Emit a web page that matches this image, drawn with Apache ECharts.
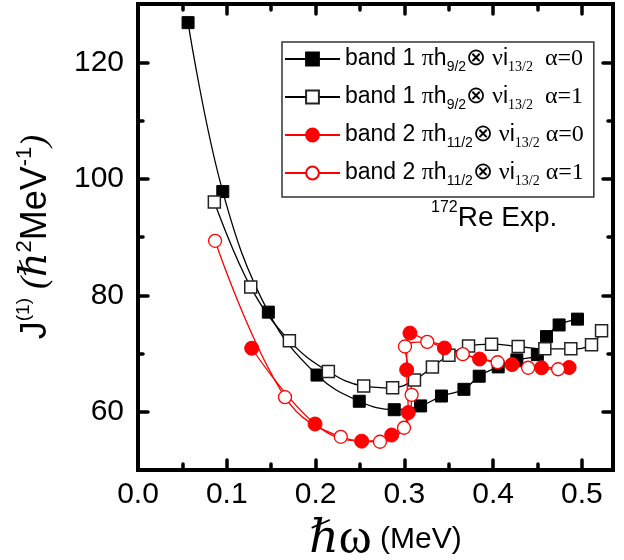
<!DOCTYPE html>
<html>
<head>
<meta charset="utf-8">
<script src="https://cdn.jsdelivr.net/npm/echarts@6/dist/echarts.min.js"></script>
<style>
  html, body { margin: 0; padding: 0; background: #ffffff; }
  #chart { width: 624px; height: 560px; }
</style>
</head>
<body>
<div id="chart"></div>
<script>
// Rotational frequency (MeV) and kinematic moment of inertia J(1) for 172Re.
// Band 1, signature alpha = 0
const band1A0X = [0.0564, 0.0955, 0.1468, 0.2016, 0.2492, 0.2886, 0.3183, 0.3418, 0.3671, 0.3843, 0.4057, 0.4267, 0.4498, 0.4601, 0.4743, 0.4950];
const band1A0Y = [126.8, 97.8, 77.1, 66.3, 61.8, 60.35, 61.0, 62.7, 63.85, 66.1, 67.7, 68.9, 69.8, 72.9, 74.9, 75.9];
// Band 1, signature alpha = 1
const band1A1X = [0.0860, 0.1270, 0.1705, 0.2144, 0.2542, 0.2868, 0.3114, 0.3316, 0.3502, 0.3723, 0.3982, 0.4282, 0.4582, 0.4875, 0.5108, 0.5221];
const band1A1Y = [96.0, 81.4, 72.2, 66.9, 64.4, 64.1, 65.45, 67.7, 69.7, 71.3, 71.6, 71.2, 70.8, 70.8, 71.5, 73.9];
// Band 2, signature alpha = 0
const band2A0X = [0.1281, 0.1994, 0.2519, 0.2857, 0.3044, 0.3026, 0.3063, 0.3451, 0.3847, 0.4214, 0.4545, 0.4856];
const band2A0Y = [70.9, 57.9, 54.95, 56.0, 59.85, 67.2, 73.5, 70.95, 69.05, 68.1, 67.55, 67.6];
// Band 2, signature alpha = 1
const band2A1X = [0.0868, 0.1656, 0.2284, 0.2725, 0.2996, 0.3082, 0.3007, 0.3258, 0.3658, 0.4050, 0.4394, 0.4732];
const band2A1Y = [89.35, 62.5, 55.7, 54.85, 57.25, 62.9, 71.2, 72.0, 69.9, 68.5, 67.55, 67.3];

// Axis ticks
const xMajorTicks = [0.0, 0.1, 0.2, 0.3, 0.4, 0.5];
const xMinorTicks = [0.05, 0.15, 0.25, 0.35, 0.45];
const yMajorTicks = [60, 80, 100, 120];
const yMinorTicks = [70, 90, 110];
const xMin = 0, xMax = 0.535;
const yMin = 50, yMax = 130;

const seriesNames = ['b1a0', 'b1a1', 'b2a0', 'b2a1'];
const legendTexts = {
  b1a0: '{t|band 1 }{g|π}{t|h}{s|9/2}{g|⊗ ν}{t|i}{s2|13/2}{g|  α=0}',
  b1a1: '{t|band 1 }{g|π}{t|h}{s|9/2}{g|⊗ ν}{t|i}{s2|13/2}{g|  α=1}',
  b2a0: '{t|band 2 }{g|π}{t|h}{s|11/2}{g|⊗ ν}{t|i}{s2|13/2}{g| α=0}',
  b2a1: '{t|band 2 }{g|π}{t|h}{s|11/2}{g|⊗ ν}{t|i}{s2|13/2}{g| α=1}'
};

function pairs(xs, ys) { return xs.map((x, i) => [x, ys[i]]); }

const SANS = 'Liberation Sans, Arial, sans-serif';
const SERIF = 'Liberation Serif, Times New Roman, serif';

function xAxisDef(position, ticks, len, main) {
  return {
    type: 'value', position: position, min: xMin, max: xMax,
    axisLine: { show: main, onZero: false, lineStyle: { color: '#000', width: 4, cap: 'square' } },
    axisTick: { show: true, inside: true, length: len, customValues: ticks,
      lineStyle: { color: '#000', width: 3.5, cap: 'round' } },
    axisLabel: { show: false },
    splitLine: { show: false }
  };
}
function yAxisDef(position, ticks, len, main) {
  return {
    type: 'value', position: position, min: yMin, max: yMax,
    axisLine: { show: main, onZero: false, lineStyle: { color: '#000', width: 4, cap: 'square' } },
    axisTick: { show: true, inside: true, length: len, customValues: ticks,
      lineStyle: { color: '#000', width: 3.5, cap: 'round' } },
    axisLabel: { show: false },
    splitLine: { show: false }
  };
}

const xAxes = [
  xAxisDef('bottom', xMajorTicks, 10, true),
  xAxisDef('bottom', xMinorTicks, 6, false),
  xAxisDef('top', xMajorTicks, 10, true),
  xAxisDef('top', xMinorTicks, 6, false)
];
xAxes[0].axisLabel = {
  show: true, customValues: xMajorTicks, margin: 10,
  fontFamily: SANS, fontSize: 30, color: '#000',
  formatter: v => Number(v).toFixed(1)
};
xAxes[0].name = '{h|ℏ}{w|ω}{u| (MeV)}';
xAxes[0].nameLocation = 'middle';
xAxes[0].nameGap = 34;
xAxes[0].nameTextStyle = {
  padding: [0, 0, 0, 20],
  rich: {
    h: { fontFamily: 'DejaVu Serif, serif', fontStyle: 'italic', fontSize: 46, color: '#000', lineHeight: 50 },
    w: { fontFamily: SERIF, fontSize: 50, color: '#000', lineHeight: 50 },
    u: { fontFamily: SANS, fontSize: 30, color: '#000', lineHeight: 50 }
  }
};

const yAxes = [
  yAxisDef('left', yMajorTicks, 10, true),
  yAxisDef('left', yMinorTicks, 5, false),
  yAxisDef('right', yMajorTicks, 10, true),
  yAxisDef('right', yMinorTicks, 5, false)
];
yAxes[0].axisLabel = {
  show: true, customValues: yMajorTicks, margin: 14,
  fontFamily: SANS, fontSize: 30, color: '#000'
};
yAxes[0].name = '{J|J}{sup|(1)}{p| (}{h|ℏ}{sup2|2}{M|MeV}{sup2|-1}{p|)}';
yAxes[0].nameLocation = 'middle';
yAxes[0].nameGap = 80;
yAxes[0].nameTextStyle = {
  rich: {
    J: { fontFamily: SANS, fontSize: 36, color: '#000', lineHeight: 44 },
    sup: { fontFamily: SANS, fontSize: 19, color: '#000', lineHeight: 20, verticalAlign: 'top' },
    p: { fontFamily: SERIF, fontStyle: 'italic', fontSize: 36, color: '#000', lineHeight: 44 },
    h: { fontFamily: 'DejaVu Serif, serif', fontStyle: 'italic', fontSize: 38, color: '#000', lineHeight: 44 },
    sup2: { fontFamily: SANS, fontSize: 22, color: '#000', lineHeight: 22, verticalAlign: 'top' },
    M: { fontFamily: SANS, fontSize: 36, color: '#000', lineHeight: 44 }
  }
};

const chart = echarts.init(document.getElementById('chart'), null, { renderer: 'canvas' });

chart.setOption({
  backgroundColor: '#ffffff',
  animation: false,
  grid: { left: 138, right: 11, top: 4, bottom: 90, containLabel: false, outerBoundsMode: 'none' },
  xAxis: xAxes,
  yAxis: yAxes,
  legend: {
    orient: 'vertical',
    left: 282, top: 42,
    data: seriesNames,
    itemWidth: 55, itemHeight: 16, itemGap: 11,
    padding: [5, 10, 9, 2],
    borderColor: '#333', borderWidth: 1.5,
    formatter: name => legendTexts[name],
    textStyle: {
      rich: {
        t: { fontFamily: SANS, fontSize: 23, color: '#000', lineHeight: 30 },
        g: { fontFamily: SERIF, fontSize: 24, color: '#000', lineHeight: 30 },
        s: { fontFamily: SANS, fontSize: 14, color: '#000', lineHeight: 12, verticalAlign: 'bottom' },
        s2: { fontFamily: SERIF, fontSize: 14, color: '#000', lineHeight: 12, verticalAlign: 'bottom' }
      }
    }
  },
  graphic: [{
    type: 'text', left: 431, top: 200,
    style: {
      text: '{sup|172}{t|Re Exp.}',
      rich: {
        sup: { fontFamily: SANS, fontSize: 16, fill: '#000', lineHeight: 16, verticalAlign: 'top' },
        t: { fontFamily: SANS, fontSize: 28, fill: '#000', lineHeight: 36 }
      }
    }
  }],
  series: [
    {
      name: 'b1a0', type: 'line', smooth: 0.4,
      data: pairs(band1A0X, band1A0Y),
      symbol: 'rect', symbolSize: 12,
      itemStyle: { color: '#000', borderColor: '#000', borderWidth: 1 },
      lineStyle: { color: '#000', width: 1.3 }
    },
    {
      name: 'b1a1', type: 'line', smooth: 0.4,
      data: pairs(band1A1X, band1A1Y),
      symbol: 'rect', symbolSize: 12,
      itemStyle: { color: '#fff', borderColor: '#222', borderWidth: 1.5 },
      lineStyle: { color: '#000', width: 1.3 }
    },
    {
      name: 'b2a0', type: 'line', smooth: 0.4,
      data: pairs(band2A0X, band2A0Y),
      symbol: 'circle', symbolSize: 14,
      itemStyle: { color: '#ff0000', borderColor: '#ff0000', borderWidth: 1 },
      lineStyle: { color: '#ff0000', width: 1.3 }
    },
    {
      name: 'b2a1', type: 'line', smooth: 0.4,
      data: pairs(band2A1X, band2A1Y),
      symbol: 'circle', symbolSize: 13,
      itemStyle: { color: '#fff', borderColor: '#ff0000', borderWidth: 1.3 },
      lineStyle: { color: '#ff0000', width: 1.3 }
    }
  ]
});
</script>
</body>
</html>
